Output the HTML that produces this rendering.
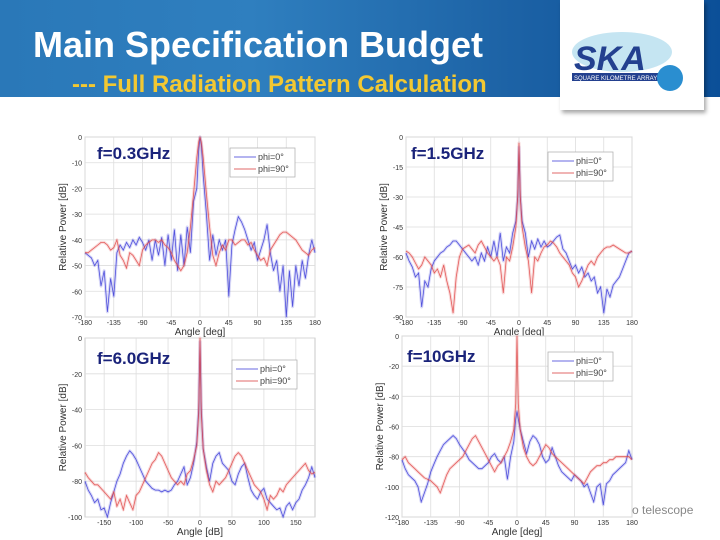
<!DOCTYPE html>
<html><head><meta charset="utf-8">
<style>
html,body{margin:0;padding:0;width:720px;height:540px;overflow:hidden;background:#fff;font-family:"Liberation Sans",sans-serif;}
#hdr{position:absolute;left:0;top:0;width:720px;height:97px;background:linear-gradient(90deg,#2a78b8 0%,#2f7fbf 35%,#1d63a6 70%,#0b4f98 100%);}
#title{position:absolute;left:33px;top:24px;color:#fff;font-size:36px;font-weight:bold;white-space:nowrap;}
#sub{position:absolute;left:72px;top:71px;color:#f2c832;font-size:24px;font-weight:bold;white-space:nowrap;}
#logo{position:absolute;left:560px;top:0;width:144px;height:110px;background:#fff;box-shadow:2px 3px 4px rgba(0,0,0,0.35);}
#tele{position:absolute;left:632px;top:503px;color:#888;font-size:12px;}
svg{position:absolute;left:0;top:0;}
</style></head><body>
<div id="hdr"></div>
<div id="title">Main Specification Budget</div>
<div id="sub">--- Full Radiation Pattern Calculation</div>
<div id="logo">
<svg width="144" height="110" style="position:absolute;left:0;top:0">
<ellipse cx="62" cy="52" rx="50" ry="20" fill="#9fd3ea" opacity="0.6"/>
<text x="14" y="70" font-family="Liberation Sans" font-weight="bold" font-size="34" fill="#23408f" font-style="italic">SKA</text>
<rect x="12" y="73" width="104" height="8" fill="#23408f"/>
<text x="14" y="80" font-family="Liberation Sans" font-size="6" fill="#fff">SQUARE KILOMETRE ARRAY</text>
<circle cx="110" cy="78" r="13" fill="#2a8ed0"/>
</svg></div>
<div id="tele">o telescope</div>
<svg id="charts" width="720" height="540"></svg>
<script>
const angles=[-180,-175,-170,-165,-160,-155,-150,-145,-140,-135,-130,-125,-120,-115,-110,-105,-100,-95,-90,-85,-80,-75,-70,-65,-60,-55,-50,-45,-40,-35,-30,-25,-20,-15,-10,-5,-2,0,2,5,10,15,20,25,30,35,40,45,50,55,60,65,70,75,80,85,90,95,100,105,110,115,120,125,130,135,140,145,150,155,160,165,170,175,180];
const titles=["f=0.3GHz","f=1.5GHz","f=6.0GHz","f=10GHz"];
const yMins=[-70,-90,-100,-120];
const yTickSteps=[10,15,20,20];
const xTicks1=[-180,-135,-90,-45,0,45,90,135,180];
const xTicks3=[-150,-100,-50,0,50,100,150];
const xLabels=["Angle [deg]","Angle [deg]","Angle [dB]","Angle [deg]"];
const blue1=[-45,-46,-47,-50,-48,-58,-52,-68,-55,-62,-45,-42,-44,-41,-43,-40,-42,-39,-41,-44,-40,-48,-40,-46,-39,-50,-38,-48,-36,-52,-38,-50,-35,-45,-25,-20,-5,0,-3,-15,-30,-48,-38,-46,-40,-44,-40,-62,-42,-36,-31,-33,-36,-40,-44,-41,-48,-44,-40,-34,-45,-52,-48,-60,-50,-70,-52,-66,-50,-58,-48,-55,-46,-40,-45];
const red1=[-45,-45,-44,-43,-42,-41,-41,-42,-44,-43,-40,-46,-48,-51,-45,-46,-48,-50,-44,-42,-41,-40,-40,-41,-40,-42,-43,-45,-48,-50,-52,-50,-45,-35,-22,-8,-2,0,-2,-8,-22,-35,-46,-50,-45,-42,-44,-40,-40,-42,-41,-40,-40,-42,-41,-44,-46,-48,-47,-50,-44,-42,-40,-38,-37,-37,-38,-39,-40,-42,-44,-45,-46,-44,-43];
const blue2=[-58,-62,-65,-70,-68,-85,-72,-75,-66,-62,-60,-58,-57,-55,-54,-52,-52,-54,-56,-58,-60,-62,-60,-64,-58,-62,-55,-60,-52,-60,-48,-62,-55,-58,-48,-42,-30,-5,-30,-42,-48,-60,-52,-56,-51,-55,-52,-55,-54,-52,-50,-49,-56,-58,-62,-66,-64,-68,-65,-70,-68,-72,-70,-78,-75,-88,-76,-80,-74,-72,-70,-66,-62,-58,-57];
const red2=[-57,-58,-60,-63,-66,-64,-60,-62,-64,-68,-66,-70,-64,-72,-78,-88,-70,-60,-56,-55,-54,-56,-58,-54,-52,-55,-58,-60,-62,-60,-64,-78,-60,-62,-55,-45,-30,-3,-30,-45,-55,-62,-78,-60,-62,-58,-55,-54,-52,-53,-55,-58,-60,-62,-64,-68,-70,-75,-72,-68,-64,-62,-64,-60,-58,-56,-55,-55,-54,-55,-56,-57,-58,-58,-57];
const blue3=[-80,-85,-88,-92,-90,-96,-95,-100,-92,-86,-80,-76,-70,-66,-63,-65,-68,-72,-76,-80,-82,-84,-85,-85,-86,-85,-86,-85,-82,-80,-76,-72,-82,-78,-70,-58,-40,-2,-40,-62,-72,-80,-70,-66,-64,-70,-72,-74,-80,-82,-76,-72,-70,-78,-85,-88,-90,-86,-84,-90,-92,-94,-96,-95,-100,-94,-92,-96,-92,-90,-85,-82,-78,-72,-78];
const red3=[-75,-78,-80,-82,-82,-84,-86,-88,-90,-86,-94,-90,-96,-88,-92,-96,-88,-86,-82,-78,-74,-70,-68,-64,-66,-70,-74,-78,-80,-82,-80,-82,-76,-74,-68,-60,-42,0,-42,-62,-74,-82,-86,-80,-82,-80,-78,-74,-70,-66,-64,-66,-70,-74,-78,-82,-84,-86,-90,-96,-88,-90,-88,-84,-86,-82,-80,-78,-76,-74,-72,-70,-74,-76,-75];
const blue4=[-82,-88,-92,-94,-96,-100,-110,-104,-98,-90,-85,-80,-76,-72,-70,-68,-66,-68,-72,-75,-78,-82,-84,-86,-88,-88,-86,-84,-80,-78,-82,-84,-80,-95,-80,-70,-55,-50,-55,-62,-70,-78,-70,-66,-68,-72,-80,-84,-82,-74,-80,-86,-90,-92,-94,-96,-92,-94,-96,-100,-98,-104,-110,-100,-98,-112,-98,-96,-92,-90,-88,-86,-84,-76,-82];
const red4=[-82,-80,-84,-86,-88,-90,-92,-94,-95,-96,-98,-100,-104,-98,-92,-88,-86,-84,-82,-80,-76,-72,-68,-66,-70,-74,-78,-82,-86,-90,-86,-84,-80,-76,-70,-62,-45,0,-45,-62,-74,-80,-84,-86,-84,-80,-76,-72,-74,-78,-80,-82,-84,-86,-88,-90,-92,-94,-96,-98,-94,-90,-88,-86,-86,-84,-84,-82,-82,-80,-80,-80,-80,-80,-82];
const blues=[blue1,blue2,blue3,blue4];
const reds=[red1,red2,red3,red4];

const boxes=[{l:85,r:315,t:137,b:317},{l:406,r:632,t:137,b:317},{l:85,r:315,t:338,b:517},{l:402,r:632,t:336,b:517}];
const legends=[{x:230,y:148},{x:548,y:152},{x:232,y:360},{x:548,y:352}];
const NS="http://www.w3.org/2000/svg";
const svg=document.getElementById('charts');
function mk(tag,attrs,parent){const e=document.createElementNS(NS,tag);for(const k in attrs)e.setAttribute(k,attrs[k]);(parent||svg).appendChild(e);return e;}

for(let c=0;c<4;c++){
  const B=boxes[c];
  const g=mk('g',{});
  
  
  const xs=a=>B.l+(a+180)/360*(B.r-B.l);
  const ys=v=>B.t+(0-v)/(0-yMins[c])*(B.b-B.t);
  mk('rect',{x:B.l,y:B.t,width:B.r-B.l,height:B.b-B.t,fill:'#fff',stroke:'#bbb','stroke-width':0.8},g);
  const xt=c===2?xTicks3:xTicks1;
  xt.forEach(t=>{
    mk('line',{x1:xs(t),x2:xs(t),y1:B.t,y2:B.b,stroke:'#ddd','stroke-width':0.8},g);
    const tx=mk('text',{x:xs(t),y:B.b+8,'font-size':7,'text-anchor':'middle',fill:'#333'},g);
    tx.textContent=t;
    
    
  });
  for(let v=0;v>=yMins[c];v-=yTickSteps[c]){
    mk('line',{x1:B.l,x2:B.r,y1:ys(v),y2:ys(v),stroke:'#ddd','stroke-width':0.8},g);
    const ty=mk('text',{x:B.l-3,y:ys(v)+3,'font-size':7,'text-anchor':'end',fill:'#333'},g);
    ty.textContent=v;
    
    
  }
  const series=[[blues[c],'#3a3ad8','blue'],[reds[c],'#e04848','red']];
  series.forEach(([vals,col,nm])=>{
    const n=Math.min(vals.length,angles.length);
    let d='';
    for(let i=0;i<n;i++)d+=(i?'L':'M')+xs(angles[i]).toFixed(1)+','+ys(Math.max(vals[i],yMins[c])).toFixed(1);
    const under=mk('path',{d:d,fill:'none',stroke:col,'stroke-width':3,opacity:0.2,'stroke-linejoin':'round'},g);
    
    
    const p=mk('path',{d:d,fill:'none',stroke:col,'stroke-width':0.8,opacity:0.85},g);
    
    
  });
  const ti=mk('text',{x:c%2===0?B.l+12:B.l+5,y:B.t+(c<2?22:26),'font-size':17,'font-weight':'bold',fill:'#1a237a'},g);
  ti.textContent=titles[c];
  
  
  const L=legends[c];
  const lg=mk('g',{},g);
  
  
  mk('rect',{x:L.x,y:L.y,width:65,height:29,fill:'#fff',stroke:'#aaa','stroke-width':0.7},lg);
  mk('line',{x1:L.x+4,x2:L.x+26,y1:L.y+9,y2:L.y+9,stroke:'#6a6ae0','stroke-width':1},lg);
  mk('line',{x1:L.x+4,x2:L.x+26,y1:L.y+21,y2:L.y+21,stroke:'#e06a6a','stroke-width':1},lg);
  const l1=mk('text',{x:L.x+28,y:L.y+12,'font-size':9,fill:'#444'},lg);l1.textContent='phi=0°';
  
  
  const l2=mk('text',{x:L.x+28,y:L.y+24,'font-size':9,fill:'#444'},lg);l2.textContent='phi=90°';
  
  
  const xl=mk('text',{x:(B.l+B.r)/2,y:B.b+18,'font-size':10,'text-anchor':'middle',fill:'#333'},g);
  xl.textContent=xLabels[c];
  
  
  const yx=B.l-19, yy=(B.t+B.b)/2;
  const yl=mk('text',{x:yx,y:yy,'font-size':10,'text-anchor':'middle',fill:'#333',transform:'rotate(-90 '+yx+' '+yy+')'},g);
  yl.textContent='Relative Power [dB]';
  
  
}
</script>
</body></html>
